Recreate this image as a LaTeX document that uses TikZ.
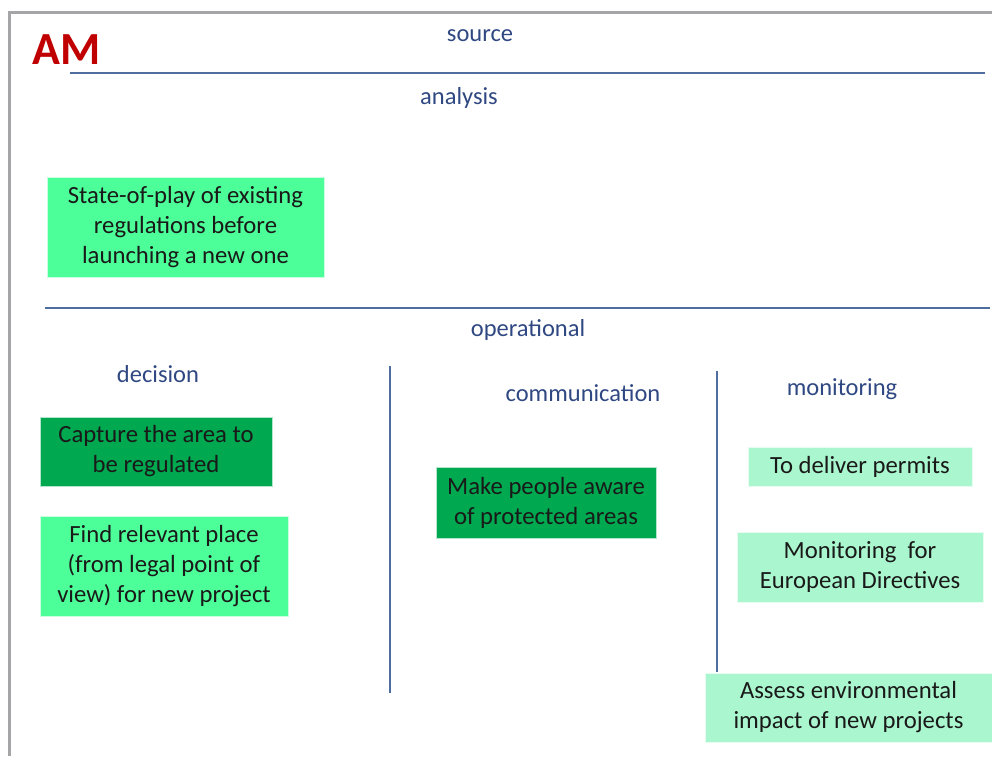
\documentclass[tikz,border=0pt]{standalone}
\usepackage{fontspec}
\setmainfont{Carlito}
\definecolor{frame}{RGB}{165,165,168}
\definecolor{rule}{RGB}{79,110,160}
\definecolor{head}{RGB}{47,72,130}
\definecolor{amred}{RGB}{192,0,0}
\definecolor{mint}{RGB}{76,255,153}
\definecolor{dgreen}{RGB}{0,168,80}
\definecolor{pale}{RGB}{170,246,206}
\definecolor{ink}{RGB}{25,25,25}
\tikzset{
  head/.style={text=head, font=\fontsize{24.5}{28}\selectfont, inner sep=0pt, yshift=-2.5pt},
  box/.style={inner sep=0pt, align=center, text=ink, font=\fontsize{24.7}{30}\selectfont, draw=white!70!#1, line width=0.6pt, fill=#1},
  sep/.style={draw=rule, line width=1.3pt},
}
\begin{document}
\begin{tikzpicture}[x=1pt,y=-1pt]
\useasboundingbox (0,0) rectangle (992,756);
% outer frame
\draw[frame, line width=3pt] (9.5,756) -- (9.5,12) -- (992,12);
% title
\node[text=amred, font=\fontsize{46}{50}\selectfont\bfseries, inner sep=0pt] (am) at (67,50) {AM};
% headers
\node[head] (source) at (480,33) {source};
\node[head] (analysis) at (459,95) {analysis};
\node[head] (operational) at (528,327) {operational};
\node[head] (decision) at (158,372) {decision};
\node[head] (communication) at (583,391) {communication};
\node[head] (monitoring) at (842,387) {monitoring};
% separators
\coordinate (h1a) at (70,73); \coordinate (h1b) at (985,73);
\coordinate (h2a) at (45,308); \coordinate (h2b) at (990,308);
\coordinate (v1a) at (390,366); \coordinate (v1b) at (390,693);
\coordinate (v2a) at (717,371); \coordinate (v2b) at (717,672);
\draw[sep] (h1a) -- (h1b);
\draw[sep] (h2a) -- (h2b);
\draw[sep] (v1a) -- (v1b);
\draw[sep] (v2a) -- (v2b);
% boxes
\node[box=mint, minimum width=277pt, minimum height=100pt] (state) at (185.5,227) {State-of-play of existing\\regulations before\\launching a new one};
\node[box=dgreen, minimum width=232pt, minimum height=69pt] (capture) at (156,451.5) {Capture the area to\\be regulated};
\node[box=mint, minimum width=248pt, minimum height=100pt] (find) at (164,566) {Find relevant place\\(from legal point of\\view) for new project};
\node[box=dgreen, minimum width=220pt, minimum height=71pt] (aware) at (546,502.5) {Make people aware\\of protected areas};
\node[box=pale, minimum width=224pt, minimum height=39pt] (permits) at (860,466.5) {To deliver permits};
\node[box=pale, minimum width=246pt, minimum height=70pt] (eudir) at (860,567) {Monitoring\ \ for\\European Directives};
\node[box=pale, minimum width=287pt, minimum height=69pt] (assess) at (848.5,707.5) {Assess environmental\\impact of new projects};
\end{tikzpicture}
\end{document}
